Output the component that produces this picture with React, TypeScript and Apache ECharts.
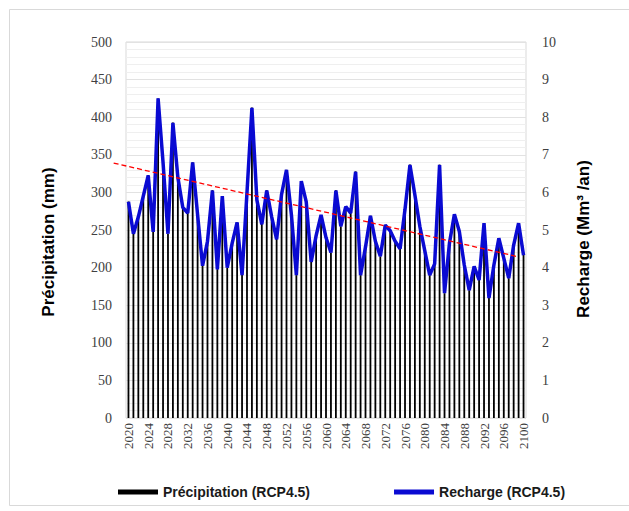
import React, { useEffect, useRef } from "react";
import * as echarts from "echarts";

// Years 2020..2100 (category axis)
const years: string[] = Array.from({ length: 81 }, (_, i) => String(2020 + i));

// Annual precipitation, mm (RCP4.5)
const precipitation: number[] = [
  288, 245, 268, 295, 323, 248, 425, 340, 245, 393,
  320, 280, 273, 340, 270, 203, 235, 303, 198, 295,
  200, 233, 260, 190, 300, 413, 290, 258, 303, 268,
  238, 298, 330, 270, 190, 315, 288, 208, 243, 270,
  240, 220, 303, 255, 281, 273, 328, 190, 228, 269,
  235, 215, 257, 249, 235, 225, 278, 337, 297, 255,
  223, 190, 205, 337, 166, 233, 271, 248, 204, 170,
  202, 184, 259, 160, 204, 239, 213, 186, 230, 259,
  217,
];

// Annual recharge, Mm3/an (RCP4.5)
const recharge: number[] = [
  5.75, 4.9, 5.35, 5.9, 6.45, 4.95, 8.5, 6.8, 4.9, 7.85,
  6.4, 5.6, 5.45, 6.8, 5.4, 4.05, 4.7, 6.05, 3.95, 5.9,
  4.0, 4.65, 5.2, 3.8, 6.0, 8.25, 5.8, 5.15, 6.05, 5.35,
  4.75, 5.95, 6.6, 5.4, 3.8, 6.3, 5.75, 4.15, 4.85, 5.4,
  4.8, 4.4, 6.05, 5.1, 5.62, 5.45, 6.55, 3.8, 4.55, 5.38,
  4.7, 4.3, 5.13, 4.98, 4.7, 4.5, 5.55, 6.73, 5.93, 5.1,
  4.45, 3.8, 4.1, 6.73, 3.32, 4.65, 5.42, 4.96, 4.07, 3.4,
  4.03, 3.67, 5.18, 3.19, 4.07, 4.78, 4.25, 3.72, 4.6, 5.18,
  4.33,
];

// Linear trend of precipitation (end points: year, mm)
const trendYears: number[] = [2017, 2098.5];
const trendValues: number[] = [339, 215];

// Tick values
const leftTicks = { min: 0, max: 500, interval: 50 };
const rightTicks = { min: 0, max: 10, interval: 1 };

const serif = "'Liberation Serif', 'Times New Roman', serif";
const sans = "'Liberation Sans', Arial, sans-serif";

export default function App() {
  const ref = useRef<HTMLDivElement>(null);

  useEffect(() => {
    if (!ref.current) return;
    const chart = echarts.init(ref.current, undefined, { renderer: "svg" });

    chart.setOption({
      animation: false,
      backgroundColor: "#ffffff",
      grid: {
        left: 126,
        right: 103,
        top: 42,
        bottom: 93,
        show: true,
        borderColor: "#d9d9d9",
        borderWidth: 1,
        containLabel: false,
      },
      legend: {
        left: 113,
        top: 480,
        itemWidth: 40,
        itemHeight: 5,
        itemGap: 84,
        textStyle: { fontFamily: sans, fontWeight: "bold", fontSize: 14, color: "#1a1a1a" },
        data: [
          { name: "Précipitation (RCP4.5)", icon: "rect" },
          { name: "Recharge (RCP4.5)", icon: "rect" },
        ],
      },
      xAxis: [
        {
          type: "category",
          data: years,
          boundaryGap: true,
          axisLine: { show: false },
          axisTick: { show: false },
          axisLabel: {
            interval: 3,
            rotate: 90,
            margin: 5,
            fontFamily: serif,
            fontSize: 13,
            color: "#404040",
          },
          splitLine: { show: false },
        },
        {
          type: "value",
          min: 2019.5,
          max: 2100.5,
          show: false,
        },
      ],
      yAxis: [
        {
          type: "value",
          min: leftTicks.min,
          max: leftTicks.max,
          interval: leftTicks.interval,
          axisLine: { show: false },
          axisTick: { show: false },
          axisLabel: { fontFamily: serif, fontSize: 14, color: "#404040", margin: 14 },
          splitLine: { show: true, lineStyle: { color: "#e2e2e2", width: 1 } },
          minorTick: { show: false, splitNumber: 5 },
          minorSplitLine: { show: true, lineStyle: { color: "#efefef", width: 1 } },
        },
        {
          type: "value",
          min: rightTicks.min,
          max: rightTicks.max,
          interval: rightTicks.interval,
          position: "right",
          axisLine: { show: false },
          axisTick: { show: false },
          axisLabel: { fontFamily: serif, fontSize: 14, color: "#404040", margin: 16 },
          splitLine: { show: false },
        },
      ],
      series: [
        {
          name: "Précipitation (RCP4.5)",
          type: "bar",
          data: precipitation,
          xAxisIndex: 0,
          yAxisIndex: 0,
          barWidth: 1.8,
          itemStyle: { color: "#000000" },
          z: 2,
        },
        {
          name: "Recharge (RCP4.5)",
          type: "line",
          data: recharge,
          xAxisIndex: 0,
          yAxisIndex: 1,
          symbol: "none",
          smooth: false,
          lineStyle: { color: "#0a0ad2", width: 3.5 },
          itemStyle: { color: "#0a0ad2" },
          z: 3,
        },
        {
          // dashed trend line, allowed to run past the left edge of the plot
          name: "trend",
          type: "custom",
          xAxisIndex: 1,
          yAxisIndex: 0,
          clip: false,
          z: 4,
          encode: { x: [0, 2], y: [1, 3] },
          data: [[trendYears[0], trendValues[0], trendYears[1], trendValues[1]]],
          renderItem: (_params: any, api: any) => {
            const p0 = api.coord([api.value(0), api.value(1)]);
            const p1 = api.coord([api.value(2), api.value(3)]);
            return {
              type: "line",
              shape: { x1: p0[0], y1: p0[1], x2: p1[0], y2: p1[1] },
              style: { stroke: "#ff0000", lineWidth: 1.3, lineDash: [5, 3], fill: "none" },
            };
          },
        },
      ],
      graphic: [
        {
          type: "rect",
          shape: { x: 9.5, y: 9.5, width: 640, height: 496 },
          style: { fill: "none", stroke: "#d9d9d9", lineWidth: 1 },
          silent: true,
        },
        {
          type: "text",
          x: 48,
          y: 242,
          rotation: Math.PI / 2,
          style: {
            text: "Précipitation (mm)",
            font: `bold 17px ${sans}`,
            fill: "#000000",
            align: "center",
            verticalAlign: "middle",
          },
        },
        {
          type: "text",
          x: 583,
          y: 239,
          rotation: Math.PI / 2,
          style: {
            text: "Recharge (Mm³ /an)",
            font: `bold 17px ${sans}`,
            fill: "#000000",
            align: "center",
            verticalAlign: "middle",
          },
        },
      ],
    });

    return () => chart.dispose();
  }, []);

  return (
    <div
      ref={ref}
      style={{ position: "fixed", left: 0, top: 0, width: 629, height: 511, background: "#fff" }}
    />
  );
}
